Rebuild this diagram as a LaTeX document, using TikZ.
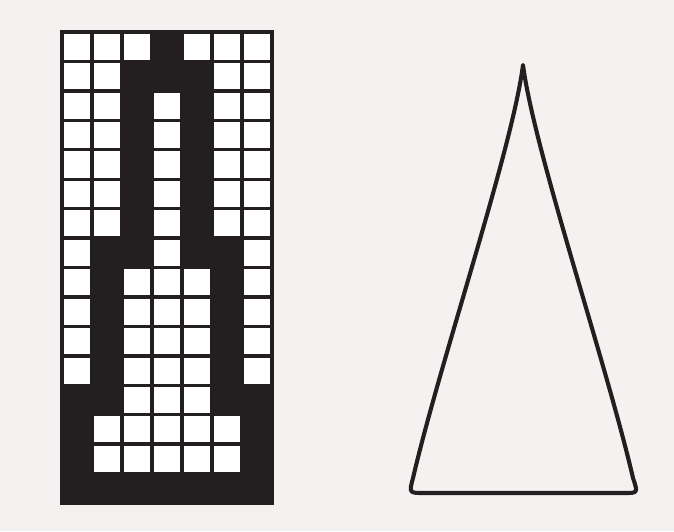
\documentclass[tikz,border=0pt]{standalone}
\usepackage{tikz}

\definecolor{paper}{HTML}{F3F2F0}
\definecolor{ink}{HTML}{231F20}

\begin{document}
\begin{tikzpicture}[
  x=0.025cm, y=-0.025cm,
  gridline/.style={draw=ink, line width=2.4pt},
  pixel/.style={fill=ink, draw=ink, line width=1.2pt},
  outline/.style={draw=ink, line width=2.9pt, line join=round}
]
% paper
\fill[paper] (0,0) rectangle (674,531);
\useasboundingbox (0,0) rectangle (674,531);

% bitmap grid, 7 x 16 cells
\begin{scope}[shift={(62,32)}, xscale=30, yscale=29.44]
  \fill[white] (0,0) rectangle (7,16);
  \foreach \c in {1,...,6}
    \draw[gridline] (\c,0) -- (\c,16);
  \foreach \r in {1,...,15}
    \draw[gridline] (0,\r) -- (7,\r);
  % black pixels of the glyph
  \foreach \r/\cols in {0/{3}, 1/{2,3,4}, 2/{2,4}, 3/{2,4}, 4/{2,4}, 5/{2,4}, 6/{2,4},
                        7/{1,2,4,5}, 8/{1,5}, 9/{1,5}, 10/{1,5}, 11/{1,5},
                        12/{0,1,5,6}, 13/{0,6}, 14/{0,6}, 15/{0,1,2,3,4,5,6}}
    \foreach \c in \cols
      \filldraw[pixel] (\c,\r) rectangle ++(1,1);
  \draw[gridline, line width=2.8pt] (0,0) rectangle (7,16);
\end{scope}

% outline of the same glyph
\draw[outline] (523,65)
  .. controls (512,150) and (440,362) .. (413,478)
  .. controls (409,493) .. (424,493)
  -- (624,493)
  .. controls (638,493) .. (633,478)
  .. controls (606,362) and (534,150) .. (523,65) -- cycle;
\end{tikzpicture}
\end{document}
